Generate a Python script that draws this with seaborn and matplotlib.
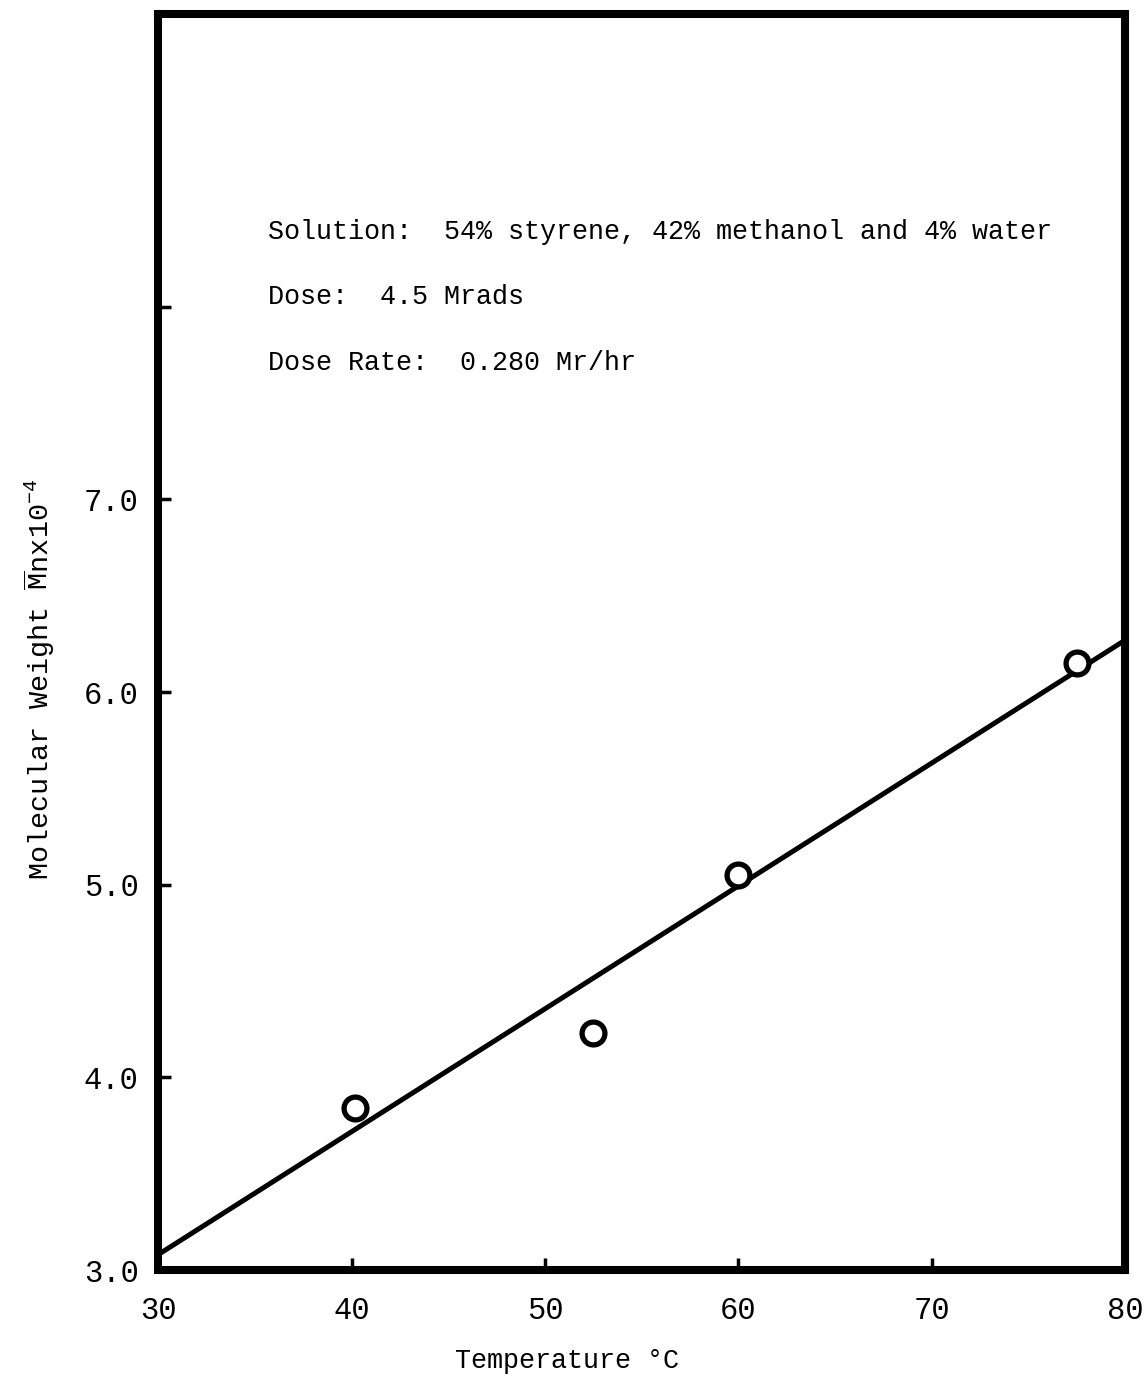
import matplotlib
matplotlib.use("Agg")
import matplotlib.pyplot as plt
import numpy as np
import pandas as pd
import seaborn as sns

# Measured number-average molecular weight vs. irradiation temperature
temperature_c = [40.2, 52.5, 60.0, 77.5]
mol_weight = [3.84, 4.23, 5.05, 6.15]

# Fitted straight line (end points across the temperature range)
fit_temp = [30.0, 80.0]
fit_mw = [3.08, 6.27]

x_ticks = [30, 40, 50, 60, 70, 80]
x_tick_labels = ["30", "40", "50", "60", "70", "80"]
y_ticks = [3.0, 4.0, 5.0, 6.0, 7.0, 8.0]
y_tick_labels = ["3.0", "4.0", "5.0", "6.0", "7.0", ""]

notes = [
    "Solution:  54% styrene, 42% methanol and 4% water",
    "Dose:  4.5 Mrads",
    "Dose Rate:  0.280 Mr/hr",
]
note_y = [8.39, 8.05, 7.71]

sns.set_theme(style="white")
plt.rcParams["font.family"] = ["Liberation Mono", "DejaVu Sans Mono"]
plt.rcParams["mathtext.fontset"] = "custom"
plt.rcParams["mathtext.rm"] = "Liberation Mono"
plt.rcParams["mathtext.it"] = "Liberation Mono"

fig = plt.figure(figsize=(11.46, 13.79), dpi=100)
ax = fig.add_axes([0.138, 0.079, 0.844, 0.911])

fit_df = pd.DataFrame({"t": fit_temp, "mw": fit_mw})
pts_df = pd.DataFrame({"t": temperature_c, "mw": mol_weight})

sns.lineplot(data=fit_df, x="t", y="mw", ax=ax, color="black", linewidth=3.6,
             zorder=2)
sns.scatterplot(data=pts_df, x="t", y="mw", ax=ax, s=270, marker="o",
                facecolor="white", edgecolor="black", linewidth=3.8, zorder=3)

ax.set_xlim(30, 80)
ax.set_ylim(3.0, 9.52)
ax.set_xticks(x_ticks)
ax.set_xticklabels(x_tick_labels)
ax.set_yticks(y_ticks)
ax.set_yticklabels(y_tick_labels)

ax.tick_params(axis="both", which="major", bottom=True, left=True,
               direction="in", length=9, width=2.5, color="black",
               labelsize=22, labelcolor="black")
ax.tick_params(axis="x", pad=19)
ax.tick_params(axis="y", pad=14)

for side in ["left", "right", "top", "bottom"]:
    ax.spines[side].set_visible(True)
    ax.spines[side].set_color("black")
    ax.spines[side].set_linewidth(5.8)

ax.set_xlabel("Temperature °C", fontsize=19.3, color="black")
ax.xaxis.set_label_coords(0.423, -0.062)
ax.set_ylabel(r"Molecular Weight $\overline{\mathrm{M}}$nx10$^{-4}$",
              fontsize=20.5, color="black")
ax.yaxis.set_label_coords(-0.105, 0.47)

for txt, yy in zip(notes, note_y):
    ax.text(35.7, yy, txt, fontsize=19.3, color="black", ha="left", va="center")

fig.savefig("out.png", dpi=100, facecolor="white")
